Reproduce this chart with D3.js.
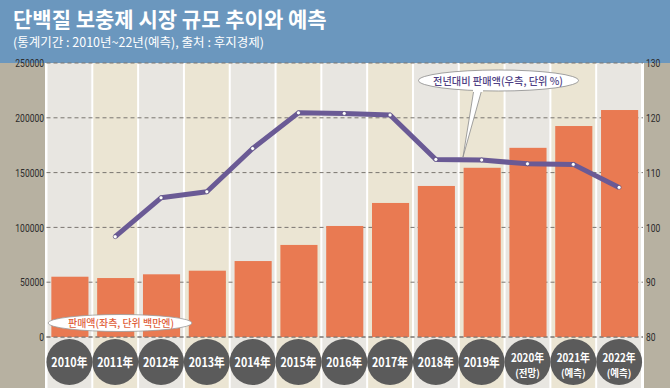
<!DOCTYPE html>
<html>
<head>
<meta charset="utf-8">
<script src="https://cdn.jsdelivr.net/npm/d3@7"></script>
<style>
  body { margin: 0; background: #fff; }
  svg { display: block; font-family: "Noto Sans CJK KR", "Noto Sans", sans-serif; }
</style>
</head>
<body>
<svg id="chart" width="670" height="388"></svg>
<script>
// data
const years = ["2010","2011","2012","2013","2014","2015","2016","2017","2018","2019","2020","2021","2022"];
const yearNotes = ["","","","","","","","","","","(전망)","(예측)","(예측)"];
const sales = [55000, 53800, 57200, 60500, 69300, 84000, 101300, 122300, 137800, 154400, 172600, 192500, 207100];
const growth = [null, 98.3, 105.4, 106.5, 114.4, 120.9, 120.8, 120.5, 112.4, 112.3, 111.6, 111.5, 107.3];
const leftTicks = [0, 50000, 100000, 150000, 200000, 250000];
const rightTicks = [80, 90, 100, 110, 120, 130];

const svg = d3.select("#chart");
const W = 670, H = 388;
const plotL = 46.5, plotR = 642, plotT = 63, zero = 337;

const x = d3.scaleBand().domain(years).range([plotL, plotR]).padding(0);
const yL = d3.scaleLinear().domain([0, 250000]).range([zero, plotT]);
const yR = d3.scaleLinear().domain([80, 130]).range([zero, plotT]);

// side bands
svg.append("rect").attr("x", 0).attr("y", 0).attr("width", W).attr("height", H).attr("fill", "#fff");
svg.append("rect").attr("x", 0).attr("y", 0).attr("width", 45).attr("height", H).attr("fill", "#b7b1a1");
svg.append("rect").attr("x", 644).attr("y", 0).attr("width", 26).attr("height", H).attr("fill", "#b7b1a1");

// alternating column backgrounds
svg.selectAll("rect.col")
  .data(years)
  .join("rect")
  .attr("class", "col")
  .attr("x", d => x(d) + 1)
  .attr("y", plotT)
  .attr("width", x.bandwidth() - 2)
  .attr("height", H - plotT)
  .attr("fill", (d, i) => i % 2 === 0 ? "#e8e6e1" : "#ebe5d3");

// title bar
svg.append("rect").attr("x", 0).attr("y", 0).attr("width", W).attr("height", plotT).attr("fill", "#6b97be");
svg.append("text").attr("x", 13).attr("y", 26.5)
  .attr("fill", "#fff").attr("font-size", 21).attr("font-weight", "bold")
  .text("단백질 보충제 시장 규모 추이와 예측");
svg.append("text").attr("x", 13).attr("y", 46.5)
  .attr("fill", "#fff").attr("font-size", 12.5)
  .text("(통계기간 : 2010년~22년(예측), 출처 : 후지경제)");

// gridlines
svg.selectAll("line.grid")
  .data(leftTicks)
  .join("line")
  .attr("class", "grid")
  .attr("x1", plotL).attr("x2", plotR + 1)
  .attr("y1", d => yL(d)).attr("y2", d => yL(d))
  .attr("stroke", "#7a7570").attr("stroke-width", 1)
  .attr("stroke-dasharray", "4,3");

// axes
const axL = svg.append("g").attr("transform", `translate(44,0)`)
  .call(d3.axisLeft(yL).tickValues(leftTicks).tickSize(0).tickPadding(0).tickFormat(d3.format("d")));
const axR = svg.append("g").attr("transform", `translate(646,0)`)
  .call(d3.axisRight(yR).tickValues(rightTicks).tickSize(0).tickPadding(0));
[axL, axR].forEach(a => {
  a.select(".domain").remove();
  a.selectAll("text")
    .attr("font-family", "Roboto, sans-serif")
    .attr("font-size", 11.5)
    .attr("fill", "#2b2b2b")
    .attr("x", 0)
    .attr("transform", "scale(0.74,1)");
});

// bars
const barW = x.bandwidth() * 0.81;
svg.selectAll("rect.bar")
  .data(sales)
  .join("rect")
  .attr("class", "bar")
  .attr("x", (d, i) => x(years[i]) + (x.bandwidth() - barW) / 2 + 0.5)
  .attr("y", d => yL(d))
  .attr("width", barW)
  .attr("height", d => zero - yL(d))
  .attr("fill", "#e97a52");

// zero line on top of bars
svg.append("line")
  .attr("x1", plotL).attr("x2", plotR + 1)
  .attr("y1", yL(0)).attr("y2", yL(0))
  .attr("stroke", "#7a7570").attr("stroke-dasharray", "4,3");

// growth line
const pts = years.map((y, i) => ({ y, v: growth[i] })).filter(d => d.v != null);
const line = d3.line().x(d => x(d.y) + x.bandwidth() / 2).y(d => yR(d.v));
svg.append("path")
  .datum(pts)
  .attr("d", line)
  .attr("fill", "none")
  .attr("stroke", "#6a5a95")
  .attr("stroke-width", 5)
  .attr("stroke-linejoin", "round");
svg.selectAll("circle.pt")
  .data(pts)
  .join("circle")
  .attr("class", "pt")
  .attr("cx", d => x(d.y) + x.bandwidth() / 2)
  .attr("cy", d => yR(d.v))
  .attr("r", 2)
  .attr("fill", "#fff")
  .attr("stroke", "#4a3d70")
  .attr("stroke-width", 0.6);

// category circles
const cat = svg.selectAll("g.cat")
  .data(years)
  .join("g")
  .attr("class", "cat")
  .attr("transform", d => `translate(${x(d) + x.bandwidth() / 2},362)`);
cat.append("circle").attr("r", 23).attr("fill", "#5b5b5b");
cat.append("text")
  .attr("text-anchor", "middle")
  .attr("y", (d, i) => yearNotes[i] ? 0 : 4.5)
  .attr("transform", "scale(0.86,1)")
  .attr("fill", "#fff")
  .attr("font-size", (d, i) => yearNotes[i] ? 11.5 : 12.5)
  .attr("font-weight", "bold")
  .text(d => d + "年");
cat.filter((d, i) => yearNotes[i]).append("text")
  .attr("text-anchor", "middle")
  .attr("y", 15)
  .attr("transform", "scale(0.95,1)")
  .attr("fill", "#fff")
  .attr("font-size", 10)
  .attr("font-weight", "bold")
  .text(d => yearNotes[years.indexOf(d)]);

// callout: sales (left)
svg.append("ellipse").attr("cx", 120).attr("cy", 323).attr("rx", 72).attr("ry", 8.5)
  .attr("fill", "#fff").attr("stroke", "#9a9a9a").attr("stroke-width", 0.8);
svg.append("text").attr("x", 121).attr("y", 326.5)
  .attr("text-anchor", "middle").attr("fill", "#e0603a")
  .attr("font-size", 10).attr("font-weight", 500)
  .attr("textLength", 106).attr("lengthAdjust", "spacingAndGlyphs")
  .text("판매액(좌측, 단위 백만엔)");

// callout: growth (right)
svg.append("path")
  .attr("d", "M474,89 L463,157 L482,89 Z")
  .attr("fill", "#fff").attr("stroke", "#8a8a8a").attr("stroke-width", 0.8);
svg.append("ellipse").attr("cx", 498.5).attr("cy", 80.5).attr("rx", 80).attr("ry", 10.5)
  .attr("fill", "#fff").attr("stroke", "#8a8a8a").attr("stroke-width", 0.8);
svg.append("rect").attr("x", 473).attr("y", 86).attr("width", 10).attr("height", 6).attr("fill", "#fff");
svg.append("text").attr("x", 498).attr("y", 84.5)
  .attr("text-anchor", "middle").attr("fill", "#4f3f85")
  .attr("font-size", 10.5).attr("font-weight", 500)
  .attr("textLength", 130).attr("lengthAdjust", "spacingAndGlyphs")
  .text("전년대비 판매액(우측, 단위 %)");
</script>
</body>
</html>
